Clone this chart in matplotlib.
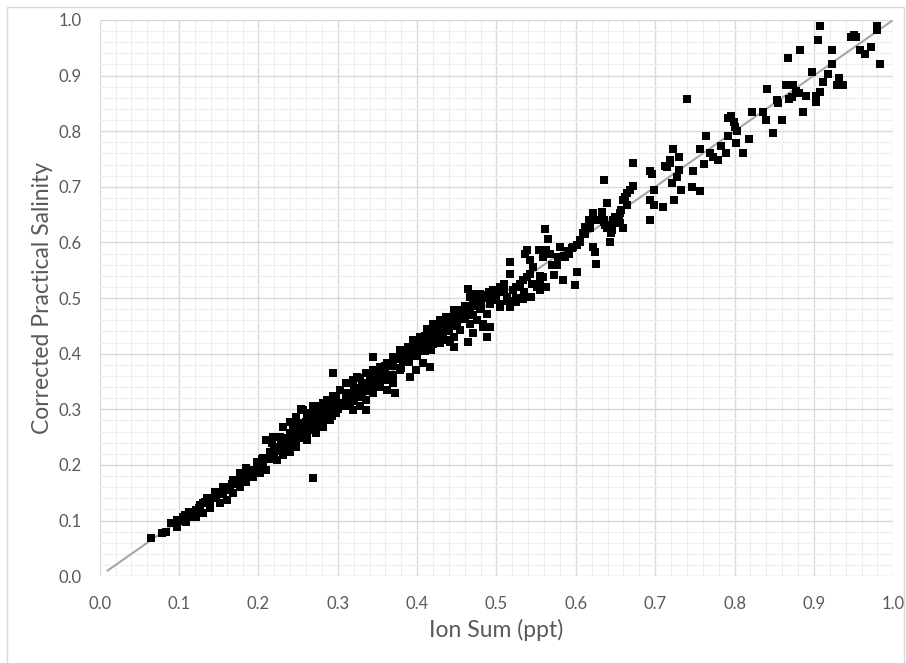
import matplotlib
matplotlib.use("Agg")
import matplotlib.pyplot as plt
from matplotlib.ticker import MultipleLocator
from matplotlib.patches import Rectangle

# Ion sum (ppt) vs corrected practical salinity
ion_sum = [
    # low range, main band
    0.065, 0.078, 0.084, 0.090, 0.097, 0.105, 0.113, 0.122, 0.130, 0.139, 0.147, 0.155,
    0.164, 0.172, 0.181, 0.189, 0.198, 0.206, 0.214, 0.223, 0.231, 0.240, 0.248, 0.256,
    0.265, 0.273, 0.282, 0.290, 0.298,
    # low range, lower edge
    0.097, 0.109, 0.122, 0.130, 0.139, 0.151, 0.160, 0.168, 0.177, 0.185, 0.193, 0.202,
    0.210, 0.223, 0.231, 0.240, 0.248, 0.261, 0.273, 0.282, 0.290, 0.298,
    # low range, upper edge
    0.113, 0.126, 0.135, 0.145, 0.155, 0.168, 0.177, 0.185, 0.198, 0.206, 0.214, 0.210,
    0.217, 0.223, 0.231, 0.240, 0.240, 0.231, 0.256, 0.244, 0.248, 0.265, 0.273, 0.282,
    0.290, 0.298, 0.254, 0.269,
    # low range, band interior
    0.100, 0.108, 0.117, 0.125, 0.133, 0.142, 0.150, 0.158, 0.167, 0.175, 0.183, 0.192,
    0.200, 0.200, 0.205, 0.215, 0.215, 0.220, 0.220, 0.228, 0.228, 0.235, 0.235,
    0.245, 0.245, 0.245, 0.252, 0.252, 0.252, 0.260, 0.260, 0.260, 0.268, 0.268, 0.268,
    0.275, 0.275, 0.275, 0.285, 0.285, 0.285, 0.293, 0.293, 0.293,
    # middle range
    0.464, 0.471, 0.479, 0.488, 0.471, 0.467, 0.479, 0.488, 0.490, 0.475, 0.483,
    0.446, 0.437, 0.429, 0.420, 0.412, 0.404, 0.395, 0.389, 0.378, 0.370, 0.362, 0.353,
    0.345, 0.336, 0.328, 0.319,
    0.454, 0.446, 0.437, 0.429, 0.418, 0.408, 0.416, 0.399, 0.391, 0.382, 0.378, 0.370,
    0.362, 0.353, 0.345, 0.336, 0.328, 0.319, 0.372, 0.336,
    0.344, 0.294, 0.324,
    0.303, 0.311, 0.294, 0.286, 0.277, 0.269, 0.254, 0.261, 0.240, 0.231, 0.219, 0.210,
    0.227, 0.244, 0.252, 0.269, 0.282, 0.290, 0.303, 0.311, 0.324, 0.315, 0.307, 0.298,
    0.290, 0.282, 0.273, 0.261, 0.248, 0.240,
    # middle range, band interior
    0.300, 0.300, 0.310, 0.310, 0.310, 0.320, 0.320, 0.320, 0.330, 0.330, 0.330,
    0.340, 0.340, 0.340, 0.350, 0.350, 0.350, 0.360, 0.360, 0.360, 0.370, 0.370, 0.370,
    0.380, 0.380, 0.380, 0.390, 0.390, 0.390, 0.400, 0.400, 0.400, 0.410, 0.410, 0.410,
    0.420, 0.420, 0.420, 0.430, 0.430, 0.430, 0.440, 0.440, 0.440, 0.450, 0.450, 0.450,
    0.460, 0.460, 0.460, 0.470, 0.470, 0.470, 0.480, 0.480, 0.480, 0.490, 0.490,
    0.500, 0.500, 0.510, 0.510,
    # upper-middle range
    0.633, 0.622, 0.616, 0.612, 0.618, 0.626, 0.635, 0.647, 0.645, 0.643, 0.609, 0.605,
    0.601, 0.622, 0.624, 0.626, 0.597, 0.591, 0.586, 0.578, 0.580, 0.561, 0.565,
    0.553, 0.563, 0.567, 0.559, 0.538, 0.536, 0.542, 0.546, 0.542, 0.538, 0.534, 0.530,
    0.525, 0.521, 0.517, 0.517,
    0.576, 0.572, 0.559, 0.555, 0.551, 0.563, 0.555, 0.544, 0.534, 0.525, 0.517,
    0.584, 0.599, 0.601,
    0.464, 0.467, 0.479, 0.488, 0.496, 0.504, 0.509, 0.500, 0.492, 0.504, 0.513,
    0.446, 0.454, 0.450, 0.441, 0.458, 0.467, 0.475, 0.488, 0.483, 0.492, 0.471, 0.488,
    0.464, 0.420, 0.412, 0.408, 0.429, 0.433, 0.425, 0.416, 0.441, 0.446,
    0.505, 0.515, 0.525, 0.535, 0.545, 0.555, 0.570, 0.585, 0.590, 0.595, 0.605, 0.612,
    0.618,
    # high range
    0.908, 0.905, 0.979, 0.980, 0.947, 0.951, 0.953, 0.883, 0.867, 0.923, 0.958, 0.964,
    0.972, 0.983, 0.923, 0.897, 0.918, 0.911, 0.931, 0.929, 0.937, 0.932, 0.908, 0.902,
    0.903, 0.890, 0.841, 0.865, 0.874, 0.878, 0.872, 0.869, 0.881, 0.853, 0.855, 0.886,
    0.860, 0.848, 0.822, 0.836, 0.839, 0.792, 0.795, 0.799, 0.801, 0.803, 0.818, 0.802,
    0.810, 0.792, 0.764, 0.740, 0.783, 0.789, 0.769, 0.773, 0.779, 0.757, 0.762, 0.722,
    0.730, 0.719, 0.712, 0.694, 0.696, 0.730, 0.728, 0.721, 0.747, 0.733, 0.746, 0.757,
    0.698, 0.694, 0.698, 0.710, 0.724, 0.693, 0.672, 0.672, 0.668, 0.664, 0.662, 0.660,
    0.665, 0.657, 0.655, 0.639, 0.636, 0.649, 0.647, 0.654, 0.656, 0.635, 0.637, 0.639,
    0.659, 0.644, 0.643, 0.715, 0.719,
]

salinity = [
    # low range, main band
    0.068, 0.078, 0.080, 0.095, 0.101, 0.107, 0.107, 0.119, 0.131, 0.137, 0.146, 0.152,
    0.161, 0.173, 0.185, 0.191, 0.200, 0.206, 0.215, 0.227, 0.239, 0.248, 0.257, 0.269,
    0.278, 0.287, 0.296, 0.305, 0.314,
    # low range, lower edge
    0.089, 0.098, 0.107, 0.113, 0.122, 0.131, 0.137, 0.149, 0.161, 0.170, 0.179, 0.185,
    0.191, 0.209, 0.218, 0.224, 0.233, 0.245, 0.257, 0.269, 0.281, 0.293,
    # low range, upper edge
    0.116, 0.128, 0.140, 0.152, 0.161, 0.173, 0.185, 0.194, 0.206, 0.212, 0.224, 0.245,
    0.239, 0.233, 0.248, 0.257, 0.278, 0.269, 0.299, 0.275, 0.287, 0.293, 0.305, 0.311,
    0.317, 0.320, 0.300, 0.176,
    # low range, band interior
    0.100, 0.110, 0.112, 0.122, 0.133, 0.140, 0.148, 0.155, 0.165, 0.172, 0.180, 0.190,
    0.205, 0.195, 0.210, 0.220, 0.210, 0.230, 0.218, 0.235, 0.225, 0.243, 0.232,
    0.250, 0.240, 0.262, 0.258, 0.248, 0.268, 0.265, 0.255, 0.278, 0.275, 0.262, 0.290,
    0.282, 0.270, 0.295, 0.290, 0.280, 0.305, 0.300, 0.288, 0.312,
    # middle range
    0.517, 0.508, 0.502, 0.505, 0.490, 0.478, 0.484, 0.472, 0.448, 0.460, 0.454,
    0.478, 0.466, 0.460, 0.454, 0.445, 0.430, 0.424, 0.412, 0.406, 0.394, 0.383, 0.376,
    0.371, 0.365, 0.356, 0.353,
    0.442, 0.430, 0.424, 0.419, 0.406, 0.383, 0.376, 0.371, 0.358, 0.388, 0.371, 0.347,
    0.335, 0.340, 0.329, 0.317, 0.305, 0.299, 0.329, 0.299,
    0.394, 0.365, 0.358,
    0.335, 0.347, 0.323, 0.317, 0.305, 0.305, 0.300, 0.287, 0.278, 0.269, 0.251, 0.245,
    0.251, 0.263, 0.275, 0.287, 0.293, 0.299, 0.311, 0.323, 0.329, 0.311, 0.305, 0.293,
    0.281, 0.269, 0.263, 0.251, 0.239, 0.233,
    # middle range, band interior
    0.300, 0.310, 0.318, 0.330, 0.305, 0.325, 0.338, 0.315, 0.335, 0.348, 0.322,
    0.345, 0.358, 0.332, 0.355, 0.368, 0.343, 0.365, 0.378, 0.352, 0.378, 0.390, 0.362,
    0.390, 0.400, 0.375, 0.400, 0.412, 0.385, 0.410, 0.422, 0.395, 0.420, 0.432, 0.405,
    0.432, 0.442, 0.418, 0.442, 0.452, 0.430, 0.455, 0.465, 0.440, 0.465, 0.475, 0.450,
    0.475, 0.485, 0.462, 0.485, 0.495, 0.470, 0.495, 0.505, 0.480, 0.500, 0.510,
    0.505, 0.515, 0.510, 0.520,
    # upper-middle range
    0.655, 0.652, 0.640, 0.628, 0.634, 0.640, 0.637, 0.637, 0.622, 0.601, 0.616, 0.604,
    0.595, 0.592, 0.583, 0.562, 0.592, 0.580, 0.574, 0.574, 0.592, 0.624, 0.606,
    0.586, 0.586, 0.580, 0.574, 0.586, 0.580, 0.568, 0.556, 0.544, 0.538, 0.532, 0.526,
    0.520, 0.514, 0.565, 0.544,
    0.559, 0.541, 0.538, 0.529, 0.520, 0.520, 0.514, 0.502, 0.499, 0.493, 0.484,
    0.532, 0.523, 0.547,
    0.517, 0.502, 0.508, 0.502, 0.514, 0.520, 0.526, 0.496, 0.490, 0.484, 0.502,
    0.472, 0.478, 0.460, 0.466, 0.466, 0.454, 0.460, 0.472, 0.448, 0.448, 0.437, 0.430,
    0.421, 0.451, 0.439, 0.430, 0.454, 0.439, 0.430, 0.419, 0.421, 0.412,
    0.490, 0.495, 0.500, 0.510, 0.525, 0.540, 0.560, 0.575, 0.585, 0.590, 0.600, 0.615,
    0.625,
    # high range
    0.989, 0.963, 0.989, 0.982, 0.970, 0.973, 0.969, 0.945, 0.932, 0.945, 0.945, 0.938,
    0.951, 0.920, 0.920, 0.907, 0.902, 0.889, 0.895, 0.883, 0.883, 0.889, 0.871, 0.863,
    0.853, 0.863, 0.876, 0.883, 0.883, 0.872, 0.861, 0.857, 0.868, 0.856, 0.851, 0.834,
    0.820, 0.796, 0.834, 0.834, 0.820, 0.823, 0.827, 0.817, 0.808, 0.801, 0.785, 0.778,
    0.760, 0.791, 0.791, 0.857, 0.773, 0.761, 0.761, 0.754, 0.748, 0.767, 0.741, 0.767,
    0.754, 0.748, 0.737, 0.728, 0.723, 0.730, 0.718, 0.706, 0.728, 0.694, 0.700, 0.693,
    0.694, 0.676, 0.667, 0.664, 0.676, 0.640, 0.742, 0.701, 0.694, 0.688, 0.682, 0.676,
    0.667, 0.658, 0.652, 0.670, 0.712, 0.646, 0.640, 0.643, 0.634, 0.640, 0.631, 0.625,
    0.625, 0.617, 0.600, 0.736, 0.742,
]

# trendline end points (ppt)
fit_x = [0.01, 1.0]
fit_y = [0.01, 1.0]

x_ticks = [0.0, 0.1, 0.2, 0.3, 0.4, 0.5, 0.6, 0.7, 0.8, 0.9, 1.0]
y_ticks = [0.0, 0.1, 0.2, 0.3, 0.4, 0.5, 0.6, 0.7, 0.8, 0.9, 1.0]

plt.rcParams["font.family"] = ["Lato", "DejaVu Sans"]

fig = plt.figure(figsize=(9.06, 6.63), dpi=100)
ax = fig.add_axes([0.110, 0.131, 0.876, 0.839])

ax.plot(fit_x, fit_y, color="#a6a6a6", lw=1.5, zorder=2)
ax.scatter(ion_sum, salinity, marker="s", s=34, color="black", linewidths=0, zorder=3)

ax.set_xlim(0, 1)
ax.set_ylim(0, 1)
ax.set_xticks(x_ticks)
ax.set_yticks(y_ticks)
ax.set_xticklabels([f"{v:.1f}" for v in x_ticks])
ax.set_yticklabels([f"{v:.1f}" for v in y_ticks])
ax.xaxis.set_minor_locator(MultipleLocator(0.02))
ax.yaxis.set_minor_locator(MultipleLocator(0.02))
ax.grid(which="major", color="#d9d9d9", lw=1.0, zorder=0)
ax.grid(which="minor", color="#eeeeee", lw=0.8, zorder=0)
ax.set_axisbelow(True)
for s in ax.spines.values():
    s.set_visible(False)
ax.tick_params(which="both", length=0, labelsize=12, labelcolor="#595959")
ax.tick_params(axis="x", pad=14)
ax.tick_params(axis="y", pad=13)

ax.set_xlabel("Ion Sum (ppt)", fontsize=16.5, color="#595959", labelpad=5)
ax.set_ylabel("Corrected Practical Salinity", fontsize=16.5, color="#595959", labelpad=4)

# chart border
fig.patches.append(Rectangle((0.008, -0.01), 0.99, 1.0, transform=fig.transFigure,
                             fill=False, edgecolor="#d9d9d9", lw=1.0))

fig.savefig("out.png", dpi=100)
